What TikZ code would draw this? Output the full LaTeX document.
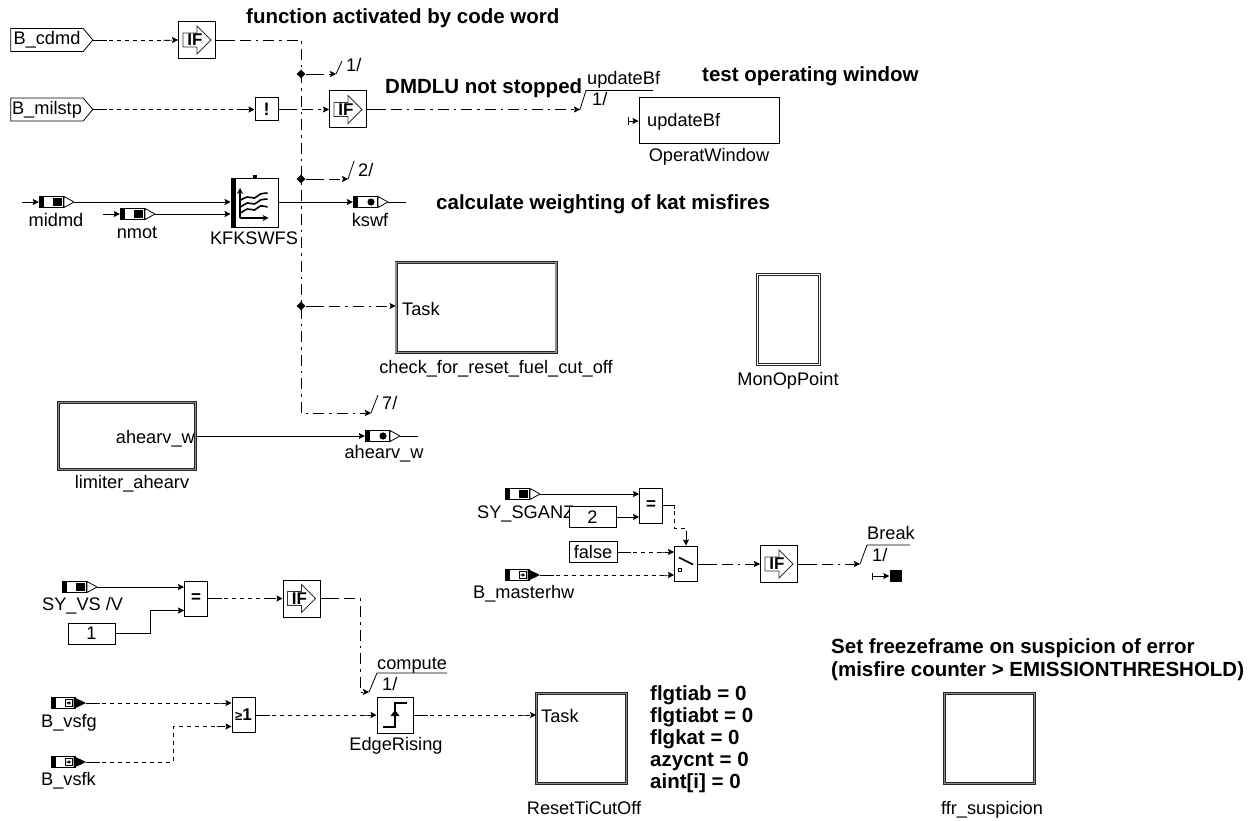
\documentclass[tikz,border=0pt]{standalone}
\usepackage{fontspec}
\setmainfont{Liberation Sans}
\usetikzlibrary{positioning,arrows.meta,shapes.geometric,shapes.symbols}
\newcommand{\ifsym}{\begin{scope}[shift={(path picture bounding box.center)}]
  \draw[line width=0.9pt, draw=black!80] (-14,-7) -- (0,-7) -- (0,-14) -- (14,0) -- (0,14) -- (0,7) -- (-14,7) -- cycle;
  \node[inner sep=0pt, font=\bfseries\fontsize{17pt}{17pt}\selectfont] at (-2,0) {IF};
\end{scope}}
\newcommand{\portbody}{\fill[black] (-17.5,-6) rectangle (-12.5,6);
  \draw[line width=0.8pt] (-17.5,-5.5) rectangle (7,5.5);}
\newcommand{\sqport}{\begin{scope}[shift={(path picture bounding box.center)}]
  \portbody \fill[black] (-3.5,-4) rectangle (5,4);
  \draw[line width=0.8pt, fill=white] (7.5,-5.5) -- (17.5,0) -- (7.5,5.5) -- cycle;
\end{scope}}
\newcommand{\dotport}{\begin{scope}[shift={(path picture bounding box.center)}]
  \portbody \fill[black] (0.5,0) circle (3.6);
  \draw[line width=0.8pt, fill=white] (7.5,-5.5) -- (17.5,0) -- (7.5,5.5) -- cycle;
\end{scope}}
\newcommand{\bitport}{\begin{scope}[shift={(path picture bounding box.center)}]
  \portbody \fill[black] (5,-6) -- (17.5,0) -- (5,6) -- cycle;
  \draw[line width=0.8pt] (-3.5,-3.5) rectangle (3.5,3.5);
  \fill[black] (-2,-0.6) rectangle (0,0.6) (0,-2) -- (2.5,0) -- (0,2) -- cycle;
\end{scope}}
\newcommand{\mapsym}{\begin{scope}[shift={(path picture bounding box.center)}]
  \fill[black] (-23.5,-24) rectangle (-18.5,24);
  \draw[line width=1.5pt, -{Stealth[length=6pt,width=6pt]}] (-14.5,15) -- (-14.5,-15);
  \draw[line width=1.5pt, -{Stealth[length=6pt,width=6pt]}] (-14.5,15) -- (14,15);
  \draw[line width=1.6pt] plot[smooth] coordinates {(-14,-3) (-7,-6) (0,-5) (6,-9) (13,-10)};
  \draw[line width=1.6pt] plot[smooth] coordinates {(-14,4) (-7,0) (0,1) (6,-3) (13,-4)};
  \draw[line width=1.6pt] plot[smooth] coordinates {(-14,10) (-7,6) (0,7) (6,3) (13,4)};
\end{scope}}
\newcommand{\swsym}{\begin{scope}[shift={(path picture bounding box.center)}]
  \draw[line width=1.6pt] (-7,-6) -- (7,1);
  \draw[line width=0.7pt] (-7.5,4.5) rectangle (-4.5,7.5);
\end{scope}}
\newcommand{\edgesym}{\begin{scope}[shift={(path picture bounding box.center)}]
  \draw[line width=2pt] (-12,12) -- (0,12) -- (0,-12) -- (12,-12);
  \fill[black] (0,-5) -- (4.5,1) -- (-4.5,1) -- cycle;
\end{scope}}
\begin{document}
\begin{tikzpicture}[
  x=1pt, y=-1pt,
  font=\fontsize{18.2pt}{21pt}\selectfont,
  blk/.style={draw, line width=1pt, fill=white, inner sep=0pt},
  ifblk/.style={blk, minimum size=37pt, path picture={\ifsym}},
  opblk/.style={blk, minimum width=23pt, minimum height=35pt, font=\bfseries\fontsize{17pt}{17pt}\selectfont},
  constbox/.style={blk, line width=0.8pt, minimum width=47pt, minimum height=21pt},
  inhex/.style={draw, line width=0.8pt, signal, signal to=east, signal pointer angle=100, minimum width=82pt, minimum height=23pt, inner sep=1pt},
  port/.style={minimum width=35pt, minimum height=12pt, inner sep=0pt},
  sqp/.style={port, path picture={\sqport}},
  dotp/.style={port, path picture={\dotport}},
  bitp/.style={port, path picture={\bitport}},
  taskbox/.style={draw=black!85, line width=0.8pt, double=black!45, double distance=1.4pt, inner sep=0pt},
  monbox/.style={taskbox, double=white},
  junct/.style={diamond, fill=black, minimum size=9pt, inner sep=0pt},
  lbl/.style={inner sep=0pt, anchor=base},
  lbw/.style={inner sep=0pt, anchor=base west},
  hd/.style={lbw, font=\bfseries\fontsize{20.5pt}{24pt}\selectfont},
  wire/.style={-{Stealth[length=6pt,width=6pt,inset=1pt]}, line width=0.8pt},
  bin/.style={-{Rectangle[length=9pt,width=0.8pt]Stealth[length=6pt,width=6pt,inset=1pt]}, line width=0.8pt, dash pattern=on 4pt off 4pt, preaction={draw, -, dash pattern=on 14pt off 5000pt}},
  act/.style={-{Stealth[length=6pt,width=6pt,inset=1pt]}, line width=0.8pt, dash pattern=on 11pt off 5pt on 2.5pt off 5pt, preaction={draw, -, dash pattern=on 16pt off 5000pt}},
  tick/.style={line width=0.8pt}
]
\useasboundingbox (0,0) rectangle (1252,821);

\node[hd] (fnact) at (246,24) {function activated by code word};
\node[hd] (dmdlu) at (385,94) {DMDLU not stopped};
\node[hd] (testop) at (702,82) {test operating window};
\node[hd] (calcw) at (436,210) {calculate weighting of kat misfires};

\node[inhex] (cdmd) at (47,40) {B\_cdmd};
\node[inhex] (milstp) at (47,109.5) {B\_milstp};
\node[ifblk] (ifa) at (197,40) {};
\node[blk, minimum size=23pt, font=\bfseries\fontsize{18pt}{18pt}\selectfont] (bang) at (266.5,109.5) {!};
\node[ifblk] (ifb) at (348,109.5) {};
\node[junct] (ja) at (301,74) {};
\node[junct] (jb) at (301,179) {};
\node[junct] (jc) at (301,306) {};
\coordinate (vtop) at (301,40);
\coordinate (vbot) at (301,413);
\coordinate (tka) at (336,74);
\coordinate (tkb) at (348,179);
\coordinate (tkc) at (371,413);
\coordinate (tkd) at (580,109.5);
\draw[bin] (cdmd.east) -- (ifa.west);
\draw[bin] (milstp.east) -- (bang.west);
\draw[act] (bang.east) -- (ifb.west);
\draw[act] (ifa.east) -- (vtop) -- (vbot) -- (tkc);
\draw[act] (ja) -- (tka);
\draw[act] (jb) -- (tkb);
\draw[act] (ifb.east) -- (tkd);
\draw[tick] (tka) -- ++(6,-13);
\draw[tick] (tkb) -- ++(6,-18);
\draw[tick] (tkc) -- ++(7,-18);
\draw[tick] (tkd) -- ++(6,-19) -- ++(67,0);
\node[lbw] (onea) at (346,72) {1/};
\node[lbw] (twoa) at (358,177) {2/};
\node[lbw] (sevena) at (382,409) {7/};
\node[lbw] (upd) at (587,85) {updateBf};
\node[lbw] (oneb) at (592,106) {1/};

\node[blk, minimum width=140pt, minimum height=46pt] (opw) at (709,121) {};
\node[lbw] (opwin) at (647,127) {updateBf};
\node[lbl] (opwlab) at (709,162) {OperatWindow};
\coordinate (opwst) at (628,121);
\draw[wire, {Bar[width=7pt,length=1pt]}-{Stealth[length=6pt,width=6pt,inset=1pt]}] (opwst) -- (opw.west);

\node[sqp] (midmd) at (56.5,202) {};
\node[sqp] (nmot) at (137.5,214) {};
\node[dotp] (kswf) at (370.5,202) {};
\node[blk, minimum width=47pt, minimum height=48pt, path picture={\mapsym}] (kfk) at (254.5,203) {};
\fill (kfk.north) ++(-2,-3) rectangle ++(4,4);
\coordinate (midin) at (22,202);
\coordinate (nmotin) at (103,214);
\coordinate (kswfout) at (406,202);
\draw[wire] (midin) -- (midmd.west);
\draw[wire] (nmotin) -- (nmot.west);
\draw[wire] (midmd.east) -- (midmd.east -| kfk.west);
\draw[wire] (nmot.east) -- (nmot.east -| kfk.west);
\draw[wire] (kfk.east |- kswf) -- (kswf.west);
\draw[line width=0.8pt] (kswf.east) -- (kswfout);
\node[lbl] (midlab) at (56,226) {midmd};
\node[lbl] (nmotlab) at (137,238) {nmot};
\node[lbl] (kfklab) at (254,244) {KFKSWFS};
\node[lbl] (kswflab) at (370,226) {kswf};

\node[taskbox, minimum width=160pt, minimum height=90pt] (chk) at (476,307.5) {};
\node[lbw] (chktask) at (402,315) {Task};
\node[lbl] (chklab) at (496,373) {check\_for\_reset\_fuel\_cut\_off};
\draw[act] (jc) -- (jc -| chk.west);
\node[monbox, minimum width=62pt, minimum height=90pt] (mon) at (788.5,319.5) {};
\node[lbl] (monlab) at (788,385) {MonOpPoint};

\node[taskbox, minimum width=137pt, minimum height=67pt] (lim) at (127,436) {};
\node[lbl, anchor=base east] (limout) at (195,443) {ahearv\_w};
\node[lbl] (limlab) at (132,488) {limiter\_ahearv};
\node[dotp] (ahe) at (382.5,436) {};
\coordinate (aheout) at (418,436);
\draw[wire] (lim.east) -- (ahe.west);
\draw[line width=0.8pt] (ahe.east) -- (aheout);
\node[lbl] (ahelab) at (384,458) {ahearv\_w};

\node[lbw] (sganzlab) at (477,518) {SY\_SGANZ};
\node[lbw] (hwlab) at (473,598) {B\_masterhw};
\node[sqp] (sganz) at (522.5,494) {};
\node[bitp] (hw) at (522.5,575) {};
\node[constbox] (two) at (592.5,517) {2};
\node[constbox, minimum width=48pt] (false) at (593,552) {false};
\node[opblk] (eqa) at (651,505.5) {=};
\node[blk, minimum width=23pt, minimum height=35pt, path picture={\swsym}] (sw) at (686,563.5) {};
\node[ifblk] (ifc) at (779,564) {};
\coordinate (bendsw) at (674,528);
\coordinate (tke) at (860,564);
\coordinate (brkst) at (872,576);
\node[fill=black, minimum size=12pt, inner sep=0pt] (brk) at (895.5,576) {};
\draw[wire] (sganz.east) -- (sganz.east -| eqa.west);
\draw[wire] (two.east) -- (two.east -| eqa.west);
\draw[bin] (eqa.east) -| (bendsw) -- (bendsw -| sw.north) -- (sw.north);
\draw[bin] (false.east) -- (false.east -| sw.west);
\draw[bin] (hw.east) -- (hw.east -| sw.west);
\draw[act] (sw.east |- ifc) -- (ifc.west);
\draw[act] (ifc.east) -- (tke);
\draw[tick] (tke) -- ++(7,-19) -- ++(43,0);
\draw[wire, {Bar[width=7pt,length=1pt]}-{Stealth[length=6pt,width=6pt,inset=1pt]}] (brkst) -- (brk.west);
\node[lbw] (brklab) at (867,539) {Break};
\node[lbw] (onec) at (872,561) {1/};

\node[lbw] (vslab) at (42,610) {SY\_VS /V};
\node[sqp] (vs) at (79.5,587) {};
\node[constbox] (one) at (91.5,633.5) {1};
\node[opblk] (eqb) at (196,598.5) {=};
\node[ifblk] (ifd) at (301.5,598.5) {};
\coordinate (bendone) at (150,610.5);
\coordinate (bendc) at (360,692);
\coordinate (tkf) at (369,692);
\draw[wire] (vs.east) -- (vs.east -| eqb.west);
\draw[wire] (one.east) -| (bendone) -- (bendone -| eqb.west);
\draw[bin] (eqb.east) -- (ifd.west);
\draw[act] (ifd.east) -| (bendc) -- (tkf);
\draw[tick] (tkf) -- ++(8,-19) -- ++(70,0);
\node[lbw] (complab) at (377,669) {compute};
\node[lbw] (oned) at (382,690) {1/};

\node[bitp] (vsfg) at (68.5,703) {};
\node[bitp] (vsfk) at (68.5,762) {};
\node[lbw] (vsfglab) at (41,727) {B\_vsfg};
\node[lbw] (vsfklab) at (41,785) {B\_vsfk};
\node[opblk] (orb) at (243.5,715) {{\fontsize{13pt}{13pt}\selectfont ≥}1};
\node[blk, minimum size=36pt, path picture={\edgesym}] (edge) at (395,715) {};
\node[lbl] (edgelab) at (396,750) {EdgeRising};
\coordinate (bendk) at (173,726.5);
\draw[bin] (vsfg.east) -- (vsfg.east -| orb.west);
\draw[bin] (vsfk.east) -| (bendk) -- (bendk -| orb.west);
\draw[bin] (orb.east) -- (edge.west);

\node[taskbox, minimum width=90pt, minimum height=90pt] (rst) at (581.5,738.5) {};
\node[lbw] (rsttask) at (541,722) {Task};
\node[lbl] (rstlab) at (584,814) {ResetTiCutOff};
\draw[bin] (edge.east) -- (edge.east -| rst.west);
\node[hd] (flga) at (650,700) {flgtiab = 0};
\node[hd] (flgb) at (650,722) {flgtiabt = 0};
\node[hd] (flgc) at (650,744) {flgkat = 0};
\node[hd] (flgd) at (650,766) {azycnt = 0};
\node[hd] (flge) at (650,788) {aint[i] = 0};

\node[hd] (frza) at (831,653) {Set freezeframe on suspicion of error};
\node[hd] (frzb) at (831,676) {(misfire counter > EMISSIONTHRESHOLD)};
\node[taskbox, minimum width=90pt, minimum height=90pt] (ffr) at (989.5,738.5) {};
\node[lbl] (ffrlab) at (992,814) {ffr\_suspicion};
\end{tikzpicture}
\end{document}
